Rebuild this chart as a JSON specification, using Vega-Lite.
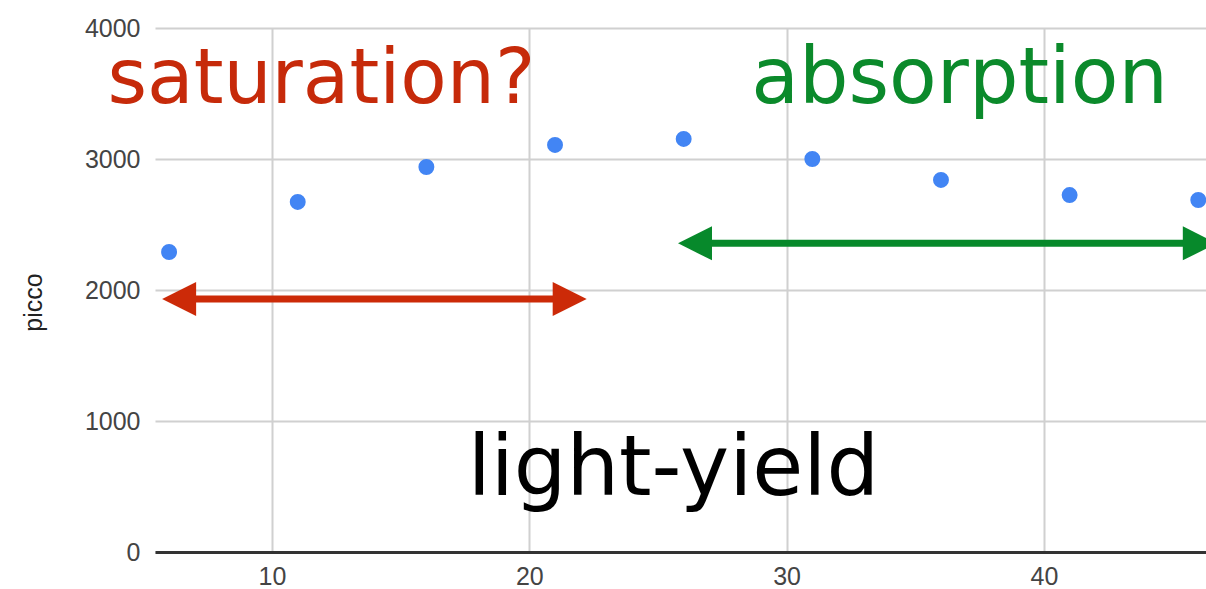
{
  "$schema": "https://vega.github.io/schema/vega-lite/v6.json",
  "autosize": "none",
  "width": 1051,
  "height": 524,
  "padding": {"left": 155, "top": 28, "right": 0, "bottom": 37},
  "background": "white",
  "config": {"view": {"stroke": null}, "axis": {"titleFontSize": 25}},
  "datasets": {
    "points": [
      {"x": 6, "picco": 2290},
      {"x": 11, "picco": 2672},
      {"x": 16, "picco": 2939},
      {"x": 21, "picco": 3107},
      {"x": 26, "picco": 3153},
      {"x": 31, "picco": 3000},
      {"x": 36, "picco": 2840},
      {"x": 41, "picco": 2725},
      {"x": 46, "picco": 2687}
    ],
    "arrows": [
      {"name": "saturation", "x1": 5.73, "x2": 22.23, "y": 1931, "color": "#cc2a08"},
      {"name": "absorption", "x1": 25.78, "x2": 46.72, "y": 2356, "color": "#07892b"}
    ],
    "labels": [
      {"label": "saturation?", "x": 11.92, "y": 3427, "color": "#c62a0a", "fs": 76},
      {"label": "absorption", "x": 36.72, "y": 3427, "color": "#0b8a2b", "fs": 78},
      {"label": "light-yield", "x": 25.6, "y": 435, "color": "#000000", "fs": 83}
    ]
  },
  "layer": [
    {
      "data": {"name": "points"},
      "mark": {"type": "point", "filled": true, "shape": "circle", "size": 254, "opacity": 1, "color": "#4285f4"},
      "encoding": {
        "x": {
          "field": "x", "type": "quantitative",
          "scale": {"domain": [5.453, 46.3], "nice": false, "zero": false},
          "axis": {
            "title": null, "values": [10, 20, 30, 40], "grid": true,
            "gridColor": "#d0d0d0", "gridWidth": 2, "ticks": false,
            "domainColor": "#333333", "domainWidth": 3,
            "labelFont": "Liberation Sans", "labelFontSize": 25, "labelColor": "#444444",
            "labelPadding": 12
          }
        },
        "y": {
          "field": "picco", "type": "quantitative",
          "scale": {"domain": [0, 4000], "nice": false},
          "axis": {
            "title": "picco", "values": [0, 1000, 2000, 3000, 4000], "format": "d", "grid": true,
            "gridColor": "#d0d0d0", "gridWidth": 2, "ticks": false, "domain": false,
            "labelFont": "Liberation Sans", "labelFontSize": 25, "labelColor": "#444444",
            "labelPadding": 15,
            "titleFont": "Liberation Sans", "titleFontSize": 25, "titleFontWeight": "normal",
            "titleColor": "#222222", "titleX": -122, "titleY": 274, "titleAngle": -90,
            "titleAlign": "center", "titleBaseline": "middle"
          }
        }
      }
    },
    {
      "data": {"name": "arrows"},
      "mark": {"type": "rule", "strokeWidth": 7, "xOffset": 25, "x2Offset": -25},
      "encoding": {
        "x": {"field": "x1", "type": "quantitative"},
        "x2": {"field": "x2"},
        "y": {"field": "y", "type": "quantitative"},
        "color": {"field": "color", "type": "nominal", "scale": null}
      }
    },
    {
      "data": {"name": "arrows"},
      "mark": {"type": "point", "filled": true, "shape": "M-1,0L1,-1L1,1Z", "size": 1156, "opacity": 1, "strokeWidth": 0, "xOffset": 17},
      "encoding": {
        "x": {"field": "x1", "type": "quantitative"},
        "y": {"field": "y", "type": "quantitative"},
        "fill": {"field": "color", "type": "nominal", "scale": null}
      }
    },
    {
      "data": {"name": "arrows"},
      "mark": {"type": "point", "filled": true, "shape": "M1,0L-1,-1L-1,1Z", "size": 1156, "opacity": 1, "strokeWidth": 0, "xOffset": -17},
      "encoding": {
        "x": {"field": "x2", "type": "quantitative"},
        "y": {"field": "y", "type": "quantitative"},
        "fill": {"field": "color", "type": "nominal", "scale": null}
      }
    },
    {
      "data": {"name": "labels"},
      "mark": {"type": "text", "font": "DejaVu Sans", "align": "center", "baseline": "alphabetic"},
      "encoding": {
        "x": {"field": "x", "type": "quantitative"},
        "y": {"field": "y", "type": "quantitative"},
        "text": {"field": "label", "type": "nominal"},
        "color": {"field": "color", "type": "nominal", "scale": null},
        "size": {"field": "fs", "type": "quantitative", "scale": null}
      }
    }
  ]
}
